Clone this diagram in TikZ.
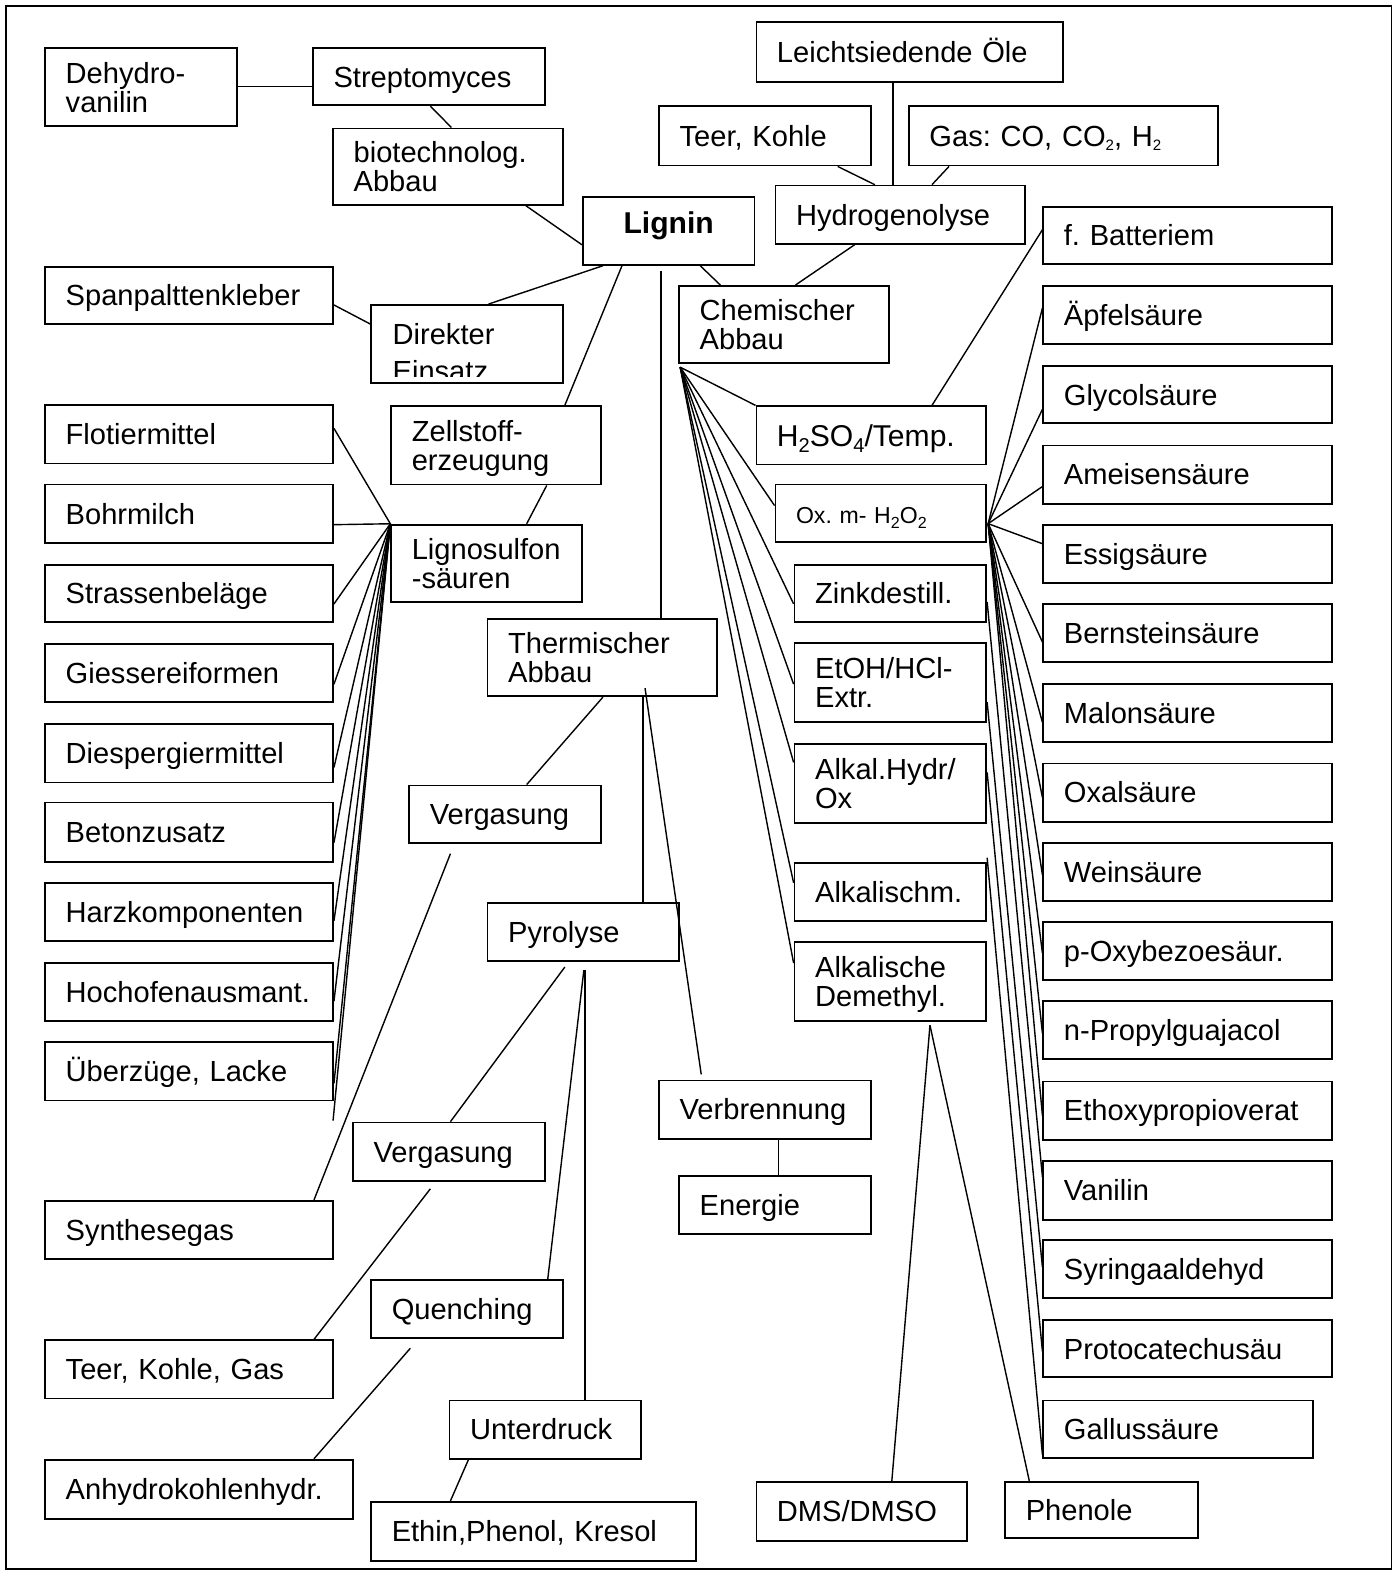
\documentclass[tikz,border=0pt]{standalone}
\usepackage{fontspec}
\setmainfont{Liberation Sans}
\usetikzlibrary{calc}
\frenchspacing

% text sizes and struts that centre the capitals in a box
\newcommand{\fsbox}{\fontsize{29}{29}\selectfont\frenchspacing\lineskiplimit=-100pt\hyphenpenalty=10000\exhyphenpenalty=10000\hbadness=10000\hfuzz=40pt}
\newcommand{\boxstrut}{\rule[-9.4pt]{0pt}{39.6pt}}
\newcommand{\ligstrut}{\rule[-19pt]{0pt}{44pt}}
\newcommand{\oxstrut}{\rule[-9pt]{0pt}{34.5pt}}
\newcommand{\acidstrut}{\rule[-6.5pt]{0pt}{38.5pt}}
% subscripts of different sizes
\newcommand{\subA}[1]{\raisebox{-0.14em}{\fontsize{15}{15}\selectfont #1}}
\newcommand{\subB}[1]{\raisebox{-0.2em}{\fontsize{20}{20}\selectfont #1}}
\newcommand{\subC}[1]{\raisebox{-0.2em}{\fontsize{16}{16}\selectfont #1}}

\tikzset{
  box/.style={draw, rectangle, line width=1.8pt, inner xsep=20.5pt, inner ysep=0pt,
    align=left, font=\fsbox, execute at begin node=\boxstrut, execute at end node=\boxstrut},
  cliptext/.style={anchor=base west, inner sep=0pt, minimum width=0pt, minimum height=0pt,
    font=\fsbox, execute at begin node={}, execute at end node={}},
  link/.style={line width=1.4pt},
  frame/.style={line width=1.8pt}
}

% \mkbox[extra style]{name}{x1}{y1}{x2}{y2}{text}
\newcommand{\mkbox}[7][]{%
  \pgfmathsetmacro{\bxw}{#5-#3}%
  \pgfmathsetmacro{\bxh}{#6-#4}%
  \pgfmathsetmacro{\bxt}{#5-#3-41}%
  \node[box, minimum width=\bxw pt, minimum height=\bxh pt, text width=\bxt pt, #1]
    (#2) at ({(#3+#5)/2},{(#4+#6)/2}) {#7};}

\begin{document}
\begin{tikzpicture}[x=1pt, y=-1pt]
\useasboundingbox (0,0) rectangle (1392,1568);
\draw[frame] (6,6) rectangle (1387,1564);

% ---- centre and biotechnology branch
\mkbox{dehy}{45}{48}{236}{126}{Dehydro-\\vanilin}
\mkbox{strep}{312}{48}{543}{105}{Streptomyces}
\mkbox{biot}{332}{128}{561}{204}{biotechnolog.\\Abbau}
\node[draw, rectangle, line width=1.8pt, minimum width=171pt, minimum height=68pt, inner sep=0pt,
  font=\fontsize{30}{30}\selectfont\bfseries, execute at begin node=\ligstrut]
  (lig) at (666.5,230) {Lignin};

% ---- hydrogenolysis
\mkbox{leicht}{754}{22}{1060}{82}{Leichtsiedende Öle}
\mkbox{teerk}{657}{106}{868}{165}{Teer, Kohle}
\mkbox{gas}{906}{106}{1214}{165}{Gas: CO, CO\subA{2}, H\subA{2}}
\mkbox{hydro}{773}{185}{1022}{243}{Hydrogenolyse}
\mkbox{chem}{677}{285}{886}{362}{Chemischer\\Abbau}

% ---- direct use (second line cut off by the text area)
\mkbox{span}{45}{266}{332}{323}{Spanpalttenkleber}
\node[draw, rectangle, line width=1.8pt, minimum width=191pt, minimum height=78pt, inner sep=0pt,
  path picture={
    \clip ([yshift=7pt]path picture bounding box.south west) rectangle (path picture bounding box.north east);
    \node[cliptext] at ([xshift=20.5pt,yshift=-39pt]path picture bounding box.north west) {Direkter};
    \node[cliptext] at ([xshift=20.5pt,yshift=-76pt]path picture bounding box.north west) {Einsatz};
  }] (direkt) at (465.5,343) {};

% ---- pulp and lignosulfonic acids
\mkbox{zell}{390}{405}{599}{483}{Zellstoff-\\erzeugung}
\mkbox{lsulf}{390}{523}{580}{600}{Lignosulfon\\-säuren}
\mkbox{flot}{45}{404}{332}{462}{Flotiermittel}
\mkbox{bohr}{45}{483}{332}{541}{Bohrmilch}
\mkbox{stras}{45}{563}{332}{620}{Strassenbeläge}
\mkbox{giess}{45}{642}{332}{700}{Giessereiformen}
\mkbox{diesp}{45}{722}{332}{780}{Diespergiermittel}
\mkbox{beton}{45}{800}{332}{859}{Betonzusatz}
\mkbox{harz}{45}{880}{332}{938}{Harzkomponenten}
\mkbox{hoch}{45}{960}{332}{1018}{Hochofenausmant.}
\mkbox{uber}{45}{1039}{332}{1097}{Überzüge, Lacke}

% ---- thermal degradation
\mkbox{therm}{486}{617}{715}{694}{Thermischer\\Abbau}
\mkbox{vergA}{408}{783}{599}{840}{Vergasung}
\mkbox{pyro}{486}{900}{677}{958}{Pyrolyse}
\mkbox{vergB}{352}{1119}{543}{1177}{Vergasung}
\mkbox{quench}{370}{1276}{561}{1334}{Quenching}
\mkbox{unter}{448}{1396}{639}{1454}{Unterdruck}
\mkbox{ethin}{370}{1497}{694}{1556}{Ethin,Phenol, Kresol}
\mkbox{verbr}{657}{1077}{868}{1135}{Verbrennung}
\mkbox{energ}{677}{1172}{868}{1230}{Energie}
\mkbox{synth}{45}{1197}{332}{1255}{Synthesegas}
\mkbox{tkg}{45}{1336}{332}{1394}{Teer, Kohle, Gas}
\mkbox{anhy}{45}{1455}{352}{1514}{Anhydrokohlenhydr.}

% ---- chemical degradation
\mkbox[font=\fontsize{30}{30}\selectfont, execute at begin node=\acidstrut, execute at end node=\acidstrut]{acid}{754}{405}{983}{463}{H\subB{2}SO\subB{4}/Temp.}
\mkbox[font=\fontsize{23}{23}\selectfont\frenchspacing, execute at begin node=\oxstrut, execute at end node=\oxstrut]{oxm}{773}{483}{983}{540}{Ox. m- H\subC{2}O\subC{2}}
\mkbox{zink}{792}{563}{983}{620}{Zinkdestill.}
\mkbox{etoh}{792}{641}{983}{720}{EtOH/HCl-\\Extr.}
\mkbox{ahydr}{792}{742}{983}{820}{Alkal.Hydr/\\Ox}
\mkbox{aschm}{792}{860}{983}{918}{Alkalischm.}
\mkbox{ademe}{792}{939}{983}{1018}{Alkalische\\Demethyl.}
\mkbox{dms}{754}{1477}{964}{1536}{DMS/DMSO}
\mkbox{phen}{1002}{1477}{1194}{1533}{Phenole}

% ---- products column
\mkbox{batt}{1040}{206}{1328}{263}{f. Batteriem}
\mkbox{apf}{1040}{285}{1328}{343}{Äpfelsäure}
\mkbox{glyc}{1040}{365}{1328}{422}{Glycolsäure}
\mkbox{amei}{1040}{444}{1328}{502}{Ameisensäure}
\mkbox{essig}{1040}{523}{1328}{581}{Essigsäure}
\mkbox{bern}{1040}{602}{1328}{660}{Bernsteinsäure}
\mkbox{malon}{1040}{682}{1328}{740}{Malonsäure}
\mkbox{oxal}{1040}{761}{1328}{819}{Oxalsäure}
\mkbox{wein}{1040}{840}{1328}{898}{Weinsäure}
\mkbox{poxy}{1040}{919}{1328}{977}{p-Oxybezoesäur.}
\mkbox{nprop}{1040}{998}{1328}{1056}{n-Propylguajacol}
\mkbox{ethoxy}{1040}{1078}{1328}{1136}{Ethoxypropioverat}
\mkbox{vanil}{1040}{1157}{1328}{1216}{Vanilin}
\mkbox{syring}{1040}{1236}{1328}{1294}{Syringaaldehyd}
\mkbox{proto}{1040}{1316}{1328}{1373}{Protocatechusäu}
\mkbox{gallus}{1040}{1396}{1309}{1453}{Gallussäure}

% ---- free line ends
\coordinate (tv) at (659,270);
\coordinate (ta) at (643,686);
\coordinate (tb) at (699,1071);
\coordinate (va) at (449,851);
\coordinate (pa) at (563,964);
\coordinate (pb) at (582,967);
\coordinate (pc) at (583,967);
\coordinate (vb) at (429,1185);
\coordinate (qa) at (409,1344);
\coordinate (dm) at (927,1022);
\coordinate (cf) at (678,366);
\coordinate (ox) at (985,522);
\coordinate (lsx) at (332,1117);
\coordinate (zk) at (984,600);
\coordinate (et) at (984,700);
\coordinate (ah) at (984,770);
\coordinate (as) at (984,855);

\begin{scope}[link]
% biotechnology and direct use
\draw (dehy.east |- 0,86) -- (strep.west |- 0,86);
\draw (429,0 |- strep.south) -- (450,0 |- biot.north);
\draw (524,0 |- biot.south) -- (lig.west |- 0,244);
\draw (601,0 |- lig.south) -- (487,0 |- direkt.north);
\draw (span.east |- 0,304) -- (direkt.west |- 0,323);
\draw (620,0 |- lig.south) -- (563,0 |- zell.north);
\draw (545,0 |- zell.south) -- (525,0 |- lsulf.north);
% hydrogenolysis
\draw (698,0 |- lig.south) -- (718,0 |- chem.north);
\draw (852,0 |- hydro.south) -- (793,0 |- chem.north);
\draw (835,0 |- teerk.south) -- (872,0 |- hydro.north);
\draw (890,0 |- leicht.south) -- (890,0 |- hydro.north);
\draw (946,0 |- gas.south) -- (929,0 |- hydro.north);
\draw (batt.west |- 0,229) -- (929,0 |- acid.north);
% lignosulfonic acid uses
\foreach \t/\y in {flot/427, bohr/523, stras/602, giess/682, diesp/765,
                   beton/840, harz/918, hoch/998, uber/1080}
  \draw (lsulf.north west) -- (\t.east |- 0,\y);
\draw (lsulf.north west) -- (lsx);
% thermal degradation
\draw (tv) -- (659,0 |- therm.north);
\draw (601,0 |- therm.south) -- (525,0 |- vergA.north);
\draw (641,0 |- therm.south) -- (641,0 |- pyro.north);
\draw (ta) -- (tb);
\draw (va) -- (313,0 |- synth.north);
\draw (pa) -- (449,0 |- vergB.north);
\draw (pb) -- (546,0 |- quench.north);
\draw (pc) -- (583,0 |- unter.north);
\draw (vb) -- (313,0 |- tkg.north);
\draw (qa) -- (313,0 |- anhy.north);
\draw (467,0 |- unter.south) -- (449,0 |- ethin.north);
\draw (776,0 |- verbr.south) -- (776,0 |- energ.north);
% chemical degradation
\draw (cf) -- (acid.north west);
\foreach \t/\y in {oxm/504, zink/602, etoh/682, ahydr/760, aschm/880, ademe/960}
  \draw (cf) -- (\t.west |- 0,\y);
\draw (dm) -- (889,0 |- dms.north);
\draw (dm) -- (1026,0 |- phen.north);
% products of oxidation
\foreach \t/\y in {apf/307, glyc/408, amei/485, essig/542, bern/640, malon/720,
                   oxal/795, wein/872, poxy/950, nprop/1030, ethoxy/1112}
  \draw (ox) -- (\t.west |- 0,\y);
\draw (zk) -- (vanil.west |- 0,1173);
\draw (et) -- (syring.west |- 0,1263);
\draw (ah) -- (proto.west |- 0,1347);
\draw (as) -- (gallus.west |- 0,1450);
\end{scope}
\end{tikzpicture}
\end{document}
